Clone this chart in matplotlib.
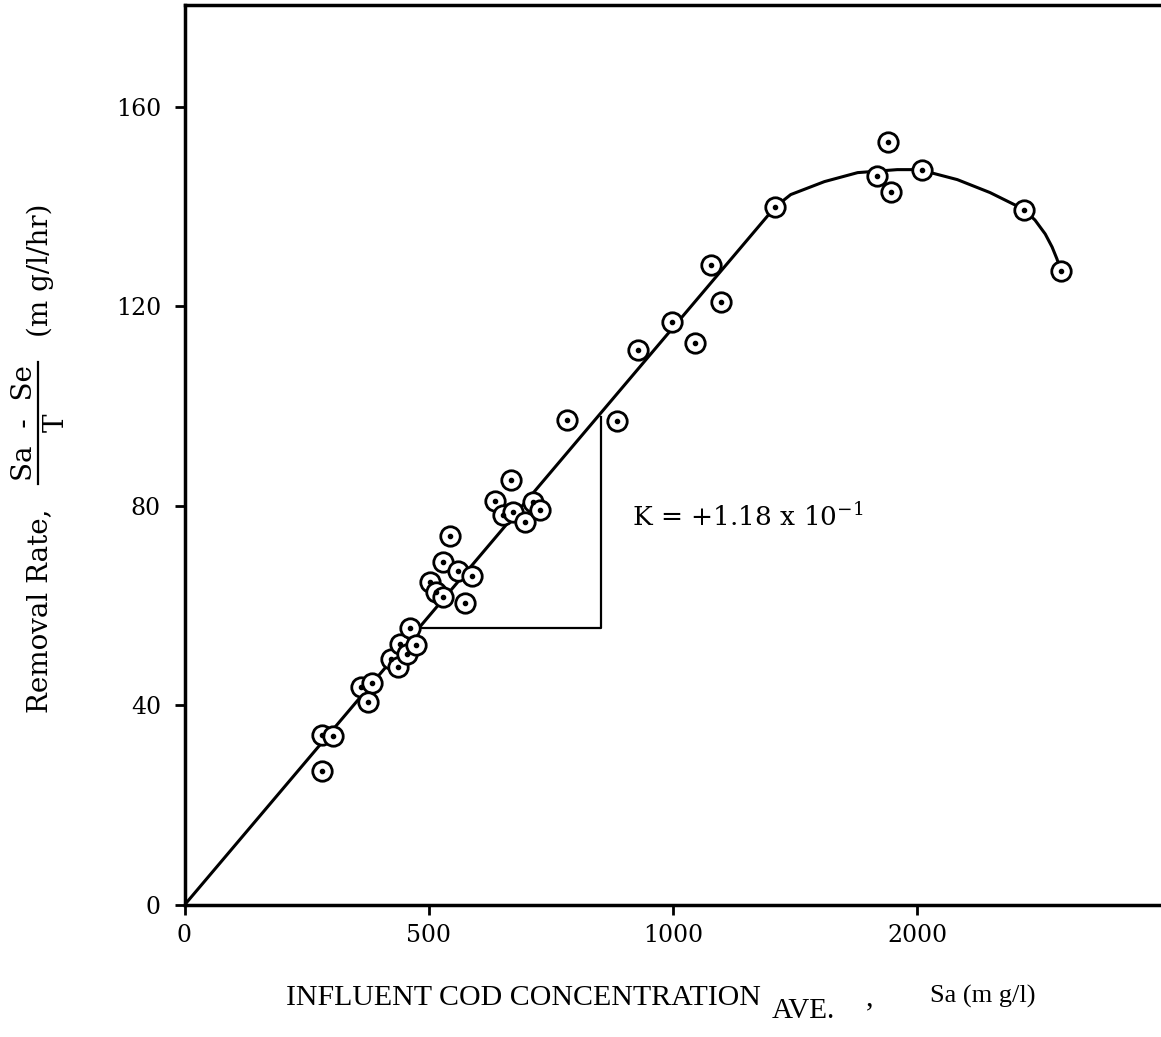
import matplotlib
matplotlib.use("Agg")
import matplotlib.pyplot as plt
from matplotlib.lines import Line2D

# observed points: influent COD (on the chart's own linear scale) vs removal rate
cod = [281, 304, 281, 361, 384, 376, 423, 437, 441, 455, 462, 474,
       503, 515, 529, 529, 560, 588, 543, 574,
       636, 652, 672, 697, 668, 713, 728,
       783, 885, 928, 998, 1045, 1078, 1098, 1209,
       1418, 1440, 1446, 1509, 1718, 1794]
rate = [34.1, 33.9, 26.9, 43.7, 44.5, 40.7, 49.3, 47.7, 52.3, 50.3, 55.5, 52.1,
        64.7, 62.7, 61.7, 68.7, 66.9, 65.9, 73.9, 60.5,
        81.0, 78.2, 78.8, 76.8, 85.2, 80.8, 79.2,
        97.2, 97.0, 111.2, 116.8, 112.6, 128.3, 120.8, 139.9,
        146.1, 152.9, 142.9, 147.3, 139.3, 127.1]

# fitted straight line + curved top
fit_x = [0, 1209, 1241, 1310, 1378, 1459, 1504, 1582, 1649, 1717, 1741, 1762, 1776, 1786, 1794]
fit_y = [0, 139.9, 142.4, 145.0, 146.8, 147.4, 147.4, 145.4, 142.8, 139.5, 137.3, 134.5, 131.9, 129.5, 127.1]

# slope triangle
tri_x = [482, 853, 853]
tri_y = [55.5, 55.5, 97.8]

x_ticks = [0, 500, 1000, 1500]
x_labels = ["0", "500", "1000", "2000"]
y_ticks = [0, 40, 80, 120, 160]

plt.rcParams["font.family"] = "DejaVu Serif"
plt.rcParams["mathtext.fontset"] = "dejavuserif"

W, H = 1161, 1037
fig = plt.figure(figsize=(W / 100, H / 100), dpi=100)
ax = fig.add_axes([184.5 / W, 132 / H, 1 - 184.5 / W, 900 / H])

ax.plot(fit_x, fit_y, color="black", lw=2.2, zorder=2)
ax.plot(tri_x, tri_y, color="black", lw=1.6, zorder=2)
ax.plot(cod, rate, linestyle="none", marker="o", ms=14, mfc="white",
        mec="black", mew=2.0, zorder=3)
ax.plot(cod, rate, linestyle="none", marker="o", ms=3, color="black", zorder=4)

ax.text(916, 77.7, r"K = +1.18 x 10$^{-1}$", fontsize=19, va="center", ha="left")

ax.set_xlim(0, 1999)
ax.set_ylim(0, 180.4)
ax.set_xticks(x_ticks)
ax.set_xticklabels(x_labels)
ax.set_yticks(y_ticks)
ax.tick_params(axis="both", labelsize=17, width=2, length=7, direction="out")
ax.tick_params(axis="x", pad=7)
ax.tick_params(axis="y", pad=10)

for side in ["left", "bottom", "top"]:
    ax.spines[side].set_linewidth(2.5)
ax.spines["right"].set_visible(False)


def ytext(px, py, s, ha="left"):
    """Vertical label piece, positioned in pixel coords (baseline at px)."""
    fig.text(px / W, 1 - py / H, s, fontsize=20, rotation=90,
             rotation_mode="anchor", ha=ha, va="baseline")


# y label built in pieces so the typed fraction stacks like the original
ytext(47, 713, "Removal Rate,")
ytext(32, 423, "Sa  -  Se", ha="center")
ytext(64, 423, "T", ha="center")
fig.add_artist(Line2D([38 / W, 38 / W], [1 - 484 / H, 1 - 362 / H],
                      color="black", lw=1.6))
ytext(48, 337, "(m g/l/hr)")

# x label, pieced together so the subscript sits low like the typed original
base = 1 - 1005 / H
fig.text(286 / W, base, "INFLUENT COD CONCENTRATION", family="Liberation Serif",
         fontsize=21.5, ha="left", va="baseline")
fig.text(772 / W, base - 13 / H, "AVE.", family="Liberation Serif",
         fontsize=21, ha="left", va="baseline")
fig.text(866 / W, base, ",", family="Liberation Serif",
         fontsize=21.5, ha="left", va="baseline")
fig.text(930 / W, base + 2 / H, "Sa (m g/l)", family="Liberation Serif",
         fontsize=19, ha="left", va="baseline")

fig.savefig("out.png", dpi=100)
